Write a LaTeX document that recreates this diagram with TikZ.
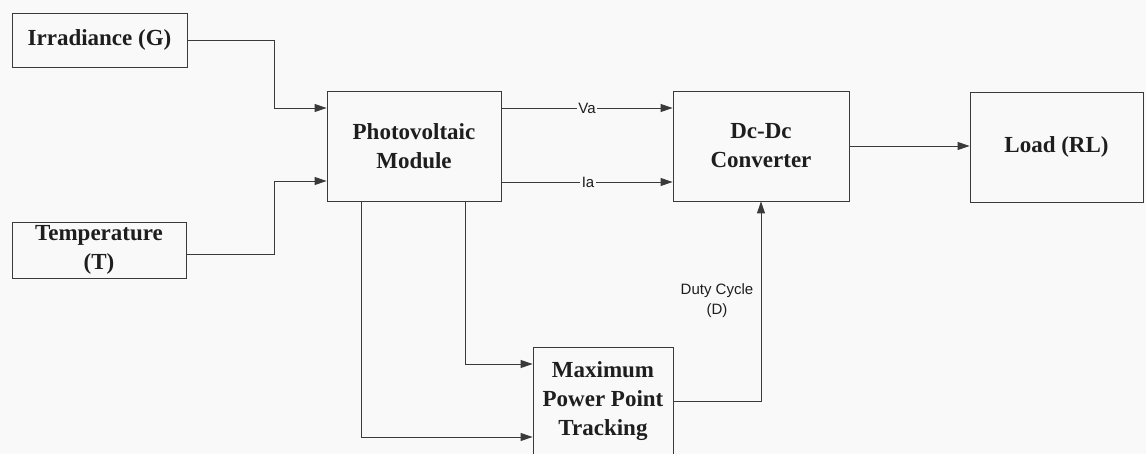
\documentclass[tikz,border=0pt]{standalone}
\usepackage{fontspec}
\setmainfont{Liberation Serif}
\newfontfamily\labelfont{Liberation Sans}
\usetikzlibrary{arrows.meta}
\definecolor{bgc}{HTML}{F9F9F9}
\definecolor{linec}{HTML}{3A3A3A}
\definecolor{textc}{HTML}{1E1E1E}
\tikzset{
  blockbox/.style={draw=linec, line width=0.9pt, fill=bgc, text=textc, align=center,
    font=\fontsize{23}{29}\selectfont\bfseries, inner sep=0pt},
  arr/.style={draw=linec, line width=0.9pt, -{Triangle[length=12pt,width=8pt]}},
  plain/.style={draw=linec, line width=0.9pt},
  siglabel/.style={fill=bgc, text=textc, inner sep=1.5pt, font=\labelfont\fontsize{15}{20}\selectfont, align=center}
}
\begin{document}
\begin{tikzpicture}[x=1pt,y=-1pt]
\useasboundingbox (0,0) rectangle (1146,454);
\clip (0,0) rectangle (1146,454);
\fill[bgc] (0,0) rectangle (1146,454);

\node[blockbox, minimum width=175pt, minimum height=54pt] (irr) at (99.5,40) {Irradiance (G)};
\node[blockbox, minimum width=174pt, minimum height=56pt] (temp) at (99,250) {Temperature\\(T)};
\node[blockbox, minimum width=174pt, minimum height=110pt] (pv) at (414,146) {Photovoltaic\\Module};
\node[blockbox, minimum width=176pt, minimum height=110pt] (dc) at (761,146) {Dc-Dc\\Converter};
\node[blockbox, minimum width=173pt, minimum height=110pt] (load) at (1056.5,147) {Load (RL)};
\node[blockbox, minimum width=140pt, minimum height=108pt] (mppt) at (603,401) {Maximum\\Power Point\\Tracking};

% inputs to PV
\draw[arr] (irr.east) -- ++(87,0) |- ([yshift=38pt]pv.west);
\draw[arr] ([yshift=-4pt]temp.east) -- ++(88,0) |- ([yshift=-35pt]pv.west);

% PV to converter
\draw[arr] ([yshift=38pt]pv.east) -- node[siglabel] {Va} ([yshift=38pt]dc.west);
\draw[arr] ([yshift=-36pt]pv.east) -- node[siglabel, xshift=1pt] {Ia} ([yshift=-36pt]dc.west);

% converter to load
\draw[arr] (dc.east) -- (dc.east -| load.west);

% PV to MPPT
\draw[arr] ([xshift=35pt]pv.south west) |- ([yshift=-36pt]mppt.west);
\draw[arr] ([xshift=-36pt]pv.south east) |- ([yshift=37pt]mppt.west);

% MPPT to converter
\draw[arr] (mppt.east) -| (dc.south);
\node[siglabel, fill=none] (duty) at (717,301) {Duty Cycle\\(D)};
\end{tikzpicture}
\end{document}
